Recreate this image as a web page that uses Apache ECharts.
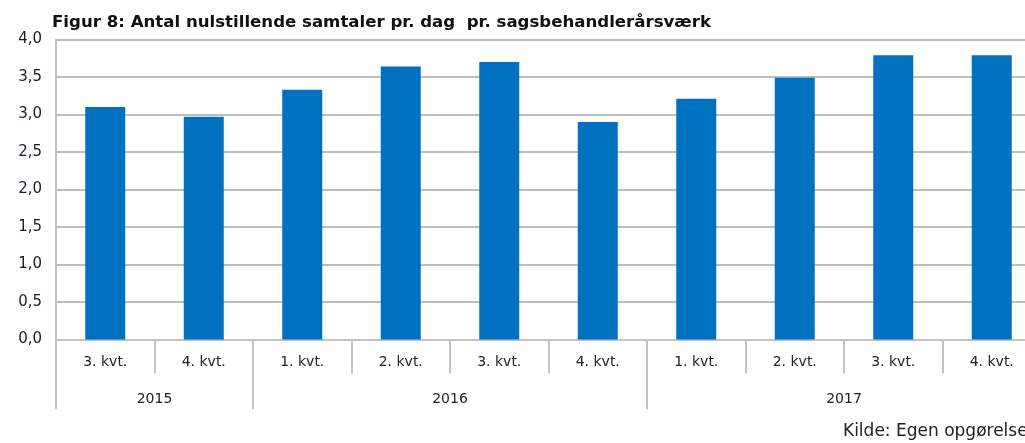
<!DOCTYPE html>
<html>
<head>
<meta charset="utf-8">
<script src="https://cdn.jsdelivr.net/npm/echarts@6/dist/echarts.min.js"></script>
<style>
html,body{margin:0;padding:0;background:#fff;}
#chart{width:1025px;height:443px;}
</style>
</head>
<body>
<div id="chart"></div>
<script>
const titleText = 'Figur 8: Antal nulstillende samtaler pr. dag  pr. sagsbehandlerårsværk';
const sourceText = 'Kilde: Egen opgørelse';
const quarters = ['3. kvt.','4. kvt.','1. kvt.','2. kvt.','3. kvt.','4. kvt.','1. kvt.','2. kvt.','3. kvt.','4. kvt.'];
const values = [3.10, 2.97, 3.33, 3.64, 3.70, 2.90, 3.21, 3.49, 3.79, 3.79];
const years = ['2015','2016','2017'];
const yearSpans = [2, 4, 4];

const yearBounds = [0];
yearSpans.forEach(s => yearBounds.push(yearBounds[yearBounds.length - 1] + s));
const yearMids = years.map((y, i) => (yearBounds[i] + yearBounds[i + 1]) / 2);

const chart = echarts.init(document.getElementById('chart'));
const gray = '#c3c3c3';
chart.setOption({
  animation: false,
  title: {
    text: titleText,
    left: 52, top: 14, padding: 0,
    textStyle: {fontFamily: 'DejaVu Sans', fontWeight: 'bold', fontSize: 16.6, color: '#111'}
  },
  graphic: [{
    type: 'text', left: 843, top: 423,
    style: {text: sourceText, fontFamily: 'DejaVu Sans', fontSize: 17, fill: '#222'}
  }],
  grid: {left: 56, top: 39.5, bottom: 103.5, width: 985, containLabel: false, outerBoundsMode: 'none'},
  xAxis: [{
    type: 'category',
    data: quarters,
    boundaryGap: true,
    axisLine: {show: true, lineStyle: {color: gray, width: 2}},
    axisTick: {show: true, interval: 0, length: 34, lineStyle: {color: gray, width: 2}},
    axisLabel: {interval: 0, margin: 16, fontFamily: 'DejaVu Sans', fontSize: 14, color: '#222'}
  }, {
    type: 'value',
    position: 'bottom',
    min: 0, max: quarters.length,
    axisLine: {show: false},
    splitLine: {show: false},
    axisTick: {show: true, length: 70, customValues: yearBounds, lineStyle: {color: gray, width: 2}},
    axisLabel: {
      customValues: yearMids, margin: 53,
      fontFamily: 'DejaVu Sans', fontSize: 14, color: '#222',
      formatter: v => years[yearMids.indexOf(v)] || ''
    }
  }],
  yAxis: {
    type: 'value', min: 0, max: 4, interval: 0.5,
    axisLine: {show: true, lineStyle: {color: gray, width: 2}},
    axisTick: {show: false},
    splitLine: {show: true, lineStyle: {color: '#bcbcbc', width: 2}},
    axisLabel: {
      margin: 14, fontFamily: 'DejaVu Sans', fontSize: 15, color: '#1a1a2e',
      formatter: v => v.toFixed(1).replace('.', ',')
    }
  },
  series: [{
    type: 'bar',
    xAxisIndex: 0,
    data: values,
    barWidth: 40,
    itemStyle: {color: '#0070c0'}
  }]
});
</script>
</body>
</html>
